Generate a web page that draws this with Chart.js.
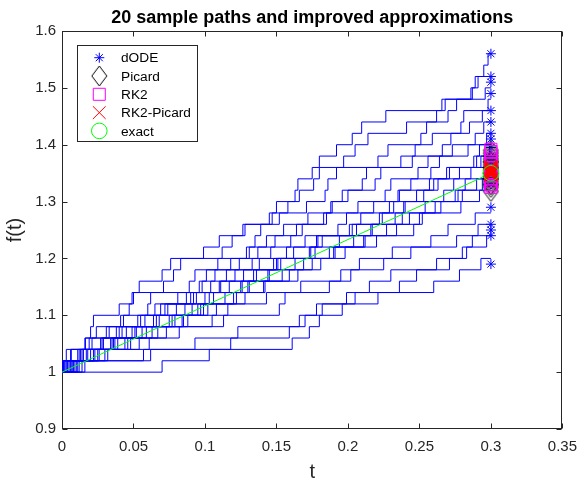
<!DOCTYPE html>
<html>
<head>
<meta charset="utf-8">
<script src="https://cdn.jsdelivr.net/npm/chart.js@4/dist/chart.umd.min.js"></script>
<style>
html,body{margin:0;padding:0;background:#ffffff;}
#wrap{position:relative;width:586px;height:481px;}
</style>
</head>
<body>
<div id="wrap"><canvas id="c" width="586" height="481"></canvas></div>
<script>
// ---------------- data ----------------
const chartTitle = '20 sample paths and improved approximations';
const xLabel = 't';
const yLabel = 'f(t)';
const xTicks = [0, 0.05, 0.1, 0.15, 0.2, 0.25, 0.3, 0.35];
const yTicks = [0.9, 1, 1.1, 1.2, 1.3, 1.4, 1.5, 1.6];
const tStart = 0;
const tEnd = 0.3;
const f0 = 1;
const jumpSize = 0.02;

// jump times of the 20 sample paths (each jump raises f by jumpSize)
const path01 = [0.0003,0.0065,0.0164,0.020,0.022,0.040,0.049,0.054,0.070,0.076,0.099,0.110,0.1265,0.145,0.150,0.163,0.165,0.175,0.180,0.192,0.203,0.2096,0.2265,0.2657,0.286,0.289,0.295,0.298];
const path02 = [0.004,0.006,0.019,0.024,0.041,0.047,0.050,0.071,0.078,0.083,0.112,0.119,0.128,0.147,0.158,0.166,0.176,0.180,0.197,0.205,0.214,0.241,0.262,0.268,0.287,0.291];
const path03 = [0.002,0.014,0.016,0.033,0.055,0.060,0.062,0.089,0.093,0.109,0.131,0.135,0.139,0.152,0.171,0.184,0.186,0.192,0.221,0.228,0.251,0.255,0.270,0.276,0.296];
const path04 = [0.008,0.012,0.027,0.045,0.053,0.074,0.081,0.098,0.101,0.124,0.129,0.149,0.168,0.172,0.189,0.196,0.210,0.213,0.237,0.247,0.259,0.279,0.281,0.298];
const path05 = [0.001,0.003,0.021,0.038,0.043,0.069,0.087,0.096,0.115,0.118,0.137,0.143,0.155,0.183,0.188,0.200,0.219,0.223,0.245,0.266,0.272,0.285,0.294];
const path06 = [0.007,0.018,0.029,0.031,0.058,0.065,0.092,0.104,0.107,0.133,0.146,0.160,0.164,0.185,0.207,0.226,0.230,0.249,0.256,0.273,0.289,0.295];
const path07 = [0.005,0.011,0.036,0.040,0.066,0.072,0.094,0.117,0.121,0.138,0.162,0.170,0.193,0.199,0.218,0.236,0.244,0.258,0.264,0.284,0.297];
const path08 = [0.002,0.025,0.028,0.049,0.064,0.086,0.090,0.111,0.127,0.153,0.157,0.179,0.201,0.209,0.232,0.235,0.260,0.271,0.288,0.292];
const path09 = [0.010,0.013,0.035,0.052,0.077,0.080,0.103,0.126,0.134,0.148,0.174,0.182,0.203,0.224,0.229,0.248,0.263,0.269,0.290,0.299];
const path10 = [0.006,0.023,0.039,0.042,0.068,0.091,0.106,0.110,0.136,0.151,0.173,0.178,0.206,0.222,0.239,0.253,0.257,0.278,0.293];
const path11 = [0.003,0.017,0.046,0.051,0.079,0.097,0.100,0.125,0.144,0.150,0.177,0.194,0.217,0.233,0.240,0.267,0.274,0.286];
const path12 = [0.012,0.015,0.044,0.067,0.075,0.099,0.122,0.130,0.154,0.163,0.191,0.204,0.227,0.238,0.254,0.277,0.282,0.296];
const path13 = [0.001,0.026,0.037,0.059,0.085,0.095,0.120,0.142,0.145,0.169,0.190,0.212,0.216,0.243,0.265,0.280,0.290];
const path14 = [0.009,0.020,0.048,0.056,0.084,0.108,0.114,0.141,0.159,0.181,0.187,0.211,0.234,0.250,0.261,0.275,0.294];
const path15 = [0.004,0.030,0.034,0.063,0.088,0.102,0.128,0.131,0.165,0.175,0.198,0.220,0.246,0.252,0.279,0.292];
const path16 = [0.011,0.022,0.054,0.073,0.105,0.116,0.143,0.167,0.195,0.208,0.231,0.258,0.270,0.289];
const path17 = [0.014,0.032,0.061,0.082,0.113,0.152,0.156,0.187,0.202,0.225,0.244,0.276,0.291];
const path18 = [0.007,0.057,0.093,0.159,0.170,0.182,0.199,0.236,0.248,0.271,0.280,0.287];
const path19 = [0.016,0.062,0.118,0.123,0.166,0.178,0.205,0.215,0.230,0.262,0.283,0.297];
const path20 = [0.070,0.103,0.161,0.173,0.180,0.196,0.221,0.260,0.278,0.293];
const samplePaths = [path01,path02,path03,path04,path05,path06,path07,path08,path09,path10,
                     path11,path12,path13,path14,path15,path16,path17,path18,path19,path20];

// estimates at t = 0.3
const dODE      = [1.56,1.52,1.51,1.49,1.46,1.44,1.42,1.41,1.395,1.38,1.37,1.36,1.35,1.34,1.33,1.29,1.26,1.25,1.24,1.19];
const picard    = [1.39,1.385,1.38,1.375,1.37,1.365,1.36,1.355,1.35,1.35,1.345,1.34,1.335,1.33,1.33,1.325,1.318,1.36,1.37,1.34];
const rk2       = [1.392,1.388,1.38,1.37,1.365,1.36,1.355,1.35,1.345,1.34,1.335,1.33,1.325,1.33,1.345,1.36,1.375,1.35,1.34,1.355];
const rk2Picard = [1.362,1.36,1.358,1.357,1.355,1.354,1.352,1.351,1.35,1.349,1.348,1.347,1.356,1.352,1.35,1.353,1.346,1.359,1.353,1.349];
const exactValue = 1.3499;
const exactLineT = [0, 0.3];
const exactLineF = [1, 1.3499];
const legendLabels = ['dODE','Picard','RK2','RK2-Picard','exact'];

// ---------------- helpers ----------------
const FONT = "'Liberation Sans', Arial, Helvetica, sans-serif";
const AXIS_COLOR = '#262626';
const fmt = v => String(parseFloat(Number(v).toFixed(3)));

function pathPoints(times) {
  const pts = [{x: tStart, y: f0}];
  let level = f0;
  times.forEach(t => { level = +(level + jumpSize).toFixed(4); pts.push({x: t, y: level}); });
  pts.push({x: tEnd, y: level});
  return pts;
}
function atEnd(values) { return values.map(v => ({x: tEnd, y: v})); }

function diamondMarker(w, h, color) {
  const c = document.createElement('canvas');
  c.width = w + 2; c.height = h + 2;
  const g = c.getContext('2d');
  g.strokeStyle = color; g.lineWidth = 1;
  g.beginPath();
  g.moveTo(c.width / 2, 1);
  g.lineTo(c.width - 1, c.height / 2);
  g.lineTo(c.width / 2, c.height - 1);
  g.lineTo(1, c.height / 2);
  g.closePath();
  g.stroke();
  return c;
}

// ---------------- datasets ----------------
const datasets = [];
const markerSets = [
  {label: legendLabels[0], data: atEnd(dODE), pointStyle: 'star', pointRadius: 5, pointBorderColor: '#0000ff', order: 4},
  {label: legendLabels[1], data: atEnd(picard), pointStyle: diamondMarker(15, 20, '#000000'), pointRadius: 8, pointBorderColor: '#000000', order: 3},
  {label: legendLabels[2], data: atEnd(rk2), pointStyle: 'rect', pointRadius: 8.5, pointBorderColor: '#ff00ff', order: 2},
  {label: legendLabels[3], data: atEnd(rk2Picard), pointStyle: 'crossRot', pointRadius: 9, pointBorderColor: '#ff0000', order: 1},
  {label: legendLabels[4], data: [{x: tEnd, y: exactValue}], pointStyle: 'circle', pointRadius: 7.8, pointBorderColor: '#00ff00', order: 0}
];
samplePaths.forEach((p, i) => {
  datasets.push({
    label: 'path ' + (i + 1), data: pathPoints(p), showLine: true, stepped: true,
    borderColor: '#0000ff', borderWidth: 1, pointRadius: 0, fill: false, order: 10
  });
});
datasets.push({
  label: 'exact line', data: exactLineT.map((t, i) => ({x: t, y: exactLineF[i]})),
  showLine: true, borderColor: '#00ff00', borderWidth: 1, pointRadius: 0, fill: false, order: 5
});
markerSets.forEach(m => {
  datasets.push(Object.assign({
    showLine: false, pointBackgroundColor: 'rgba(0,0,0,0)', pointBorderWidth: 1,
    pointHoverRadius: m.pointRadius
  }, m));
});

// ---------------- plugins ----------------
const framePlugin = {
  id: 'frame',
  beforeDatasetsDraw(chart) {
    const ctx = chart.ctx, a = chart.chartArea;
    const xs = chart.scales.x, ys = chart.scales.y;
    const L = Math.round(a.left) + 0.5, R = Math.round(a.right) - 0.5;
    const T = Math.round(a.top) + 0.5, B = Math.round(a.bottom) - 0.5;
    ctx.save();
    ctx.strokeStyle = AXIS_COLOR; ctx.lineWidth = 1;
    ctx.strokeRect(L, T, R - L, B - T);
    const tl = 5;
    ctx.beginPath();
    xTicks.forEach(v => {
      const px = Math.round(xs.getPixelForValue(v)) + 0.5;
      ctx.moveTo(px, B); ctx.lineTo(px, B - tl);
      ctx.moveTo(px, T); ctx.lineTo(px, T + tl);
    });
    yTicks.forEach(v => {
      const py = Math.round(ys.getPixelForValue(v)) + 0.5;
      ctx.moveTo(L, py); ctx.lineTo(L + tl, py);
      ctx.moveTo(R, py); ctx.lineTo(R - tl, py);
    });
    ctx.stroke();
    ctx.restore();
  }
};

const titlePlugin = {
  id: 'axesTitle',
  afterDraw(chart) {
    const ctx = chart.ctx, a = chart.chartArea;
    ctx.save();
    ctx.font = 'bold 18px ' + FONT;
    ctx.fillStyle = '#000000';
    ctx.textAlign = 'center';
    ctx.textBaseline = 'alphabetic';
    ctx.fillText(chartTitle, (a.left + a.right) / 2, 23);
    ctx.restore();
  }
};

const legendPlugin = {
  id: 'boxLegend',
  afterDraw(chart) {
    const ctx = chart.ctx, a = chart.chartArea;
    const x0 = Math.round(a.left + 15) + 0.5, y0 = Math.round(a.top + 14) + 0.5;
    const w = 120, h = 96;
    ctx.save();
    ctx.fillStyle = '#ffffff'; ctx.fillRect(x0, y0, w, h);
    ctx.strokeStyle = AXIS_COLOR; ctx.lineWidth = 1; ctx.strokeRect(x0, y0, w, h);
    ctx.font = '13.7px ' + FONT; ctx.textAlign = 'left'; ctx.textBaseline = 'middle';
    markerSets.forEach((m, i) => {
      const cy = y0 + 12.2 + i * 18.3;
      const cx = x0 + 21.8;
      ctx.save();
      ctx.strokeStyle = m.pointBorderColor; ctx.fillStyle = 'rgba(0,0,0,0)'; ctx.lineWidth = 1;
      Chart.helpers.drawPoint(ctx, {pointStyle: m.pointStyle, radius: m.pointRadius, rotation: 0, borderWidth: 1}, cx, cy);
      ctx.restore();
      ctx.fillStyle = '#000000';
      ctx.fillText(m.label, x0 + 43.5, cy + 1);
    });
    ctx.restore();
  }
};

// ---------------- chart ----------------
const tickFont = {family: FONT, size: 15};
new Chart(document.getElementById('c'), {
  type: 'scatter',
  data: {datasets},
  options: {
    responsive: false, animation: false, devicePixelRatio: 1, events: [],
    layout: {padding: {top: 31, right: 18, bottom: 0, left: 0}},
    plugins: {legend: {display: false}, title: {display: false}, tooltip: {enabled: false}},
    elements: {line: {tension: 0}},
    scales: {
      x: {
        type: 'linear', min: 0, max: 0.35,
        afterBuildTicks: s => { s.ticks = xTicks.map(v => ({value: v})); },
        afterFit: s => { s.height = 52; },
        grid: {display: false, drawTicks: false}, border: {display: false},
        ticks: {font: tickFont, color: AXIS_COLOR, padding: 9, maxRotation: 0, autoSkip: false, callback: v => fmt(v)},
        title: {display: true, text: xLabel, color: AXIS_COLOR, font: {family: FONT, size: 20, lineHeight: 0.8}, padding: {top: 0, bottom: 1}}
      },
      y: {
        type: 'linear', min: 0.9, max: 1.6,
        afterBuildTicks: s => { s.ticks = yTicks.map(v => ({value: v})); },
        afterFit: s => { s.width = 62; },
        grid: {display: false, drawTicks: false}, border: {display: false},
        ticks: {font: tickFont, color: AXIS_COLOR, padding: 6, autoSkip: false, callback: v => fmt(v)},
        title: {display: true, text: yLabel, color: AXIS_COLOR, font: {family: FONT, size: 20, lineHeight: 1.2}, padding: {top: 3, bottom: 0}}
      }
    }
  },
  plugins: [framePlugin, titlePlugin, legendPlugin]
});
</script>
</body>
</html>
